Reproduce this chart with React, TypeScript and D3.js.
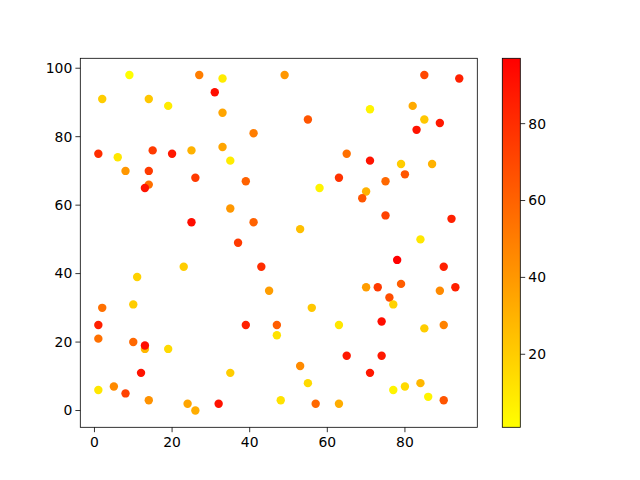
import React from "react";
import * as d3 from "d3";

// scatter points: x, y and the colour value
const xs = [9, 27, 33, 31, 2, 14, 19, 33, 41, 1, 6, 15, 20, 25, 33, 35, 8, 14, 26, 39, 14, 13, 35, 25, 41, 37, 49, 85, 94, 71, 82, 55, 85, 89, 83, 65, 71, 79, 87, 63, 80, 75, 58, 70, 69, 75, 92, 53, 84, 23, 43, 11, 45, 2, 10, 1, 39, 47, 47, 1, 10, 13, 13, 19, 12, 35, 1, 5, 8, 14, 24, 26, 32, 48, 78, 90, 70, 73, 79, 93, 89, 76, 77, 56, 63, 74, 85, 90, 65, 74, 71, 53, 55, 77, 80, 84, 86, 90, 57, 63];
const ys = [98, 98, 97, 93, 91, 91, 89, 87, 81, 75, 74, 76, 75, 76, 77, 73, 70, 70, 68, 67, 66, 65, 59, 55, 55, 49, 98, 98, 97, 88, 89, 85, 85, 84, 82, 75, 73, 72, 72, 68, 69, 67, 65, 64, 62, 57, 56, 53, 50, 42, 42, 39, 35, 30, 31, 25, 25, 25, 22, 21, 20, 18, 19, 18, 11, 11, 6, 7, 5, 3, 2, 0, 2, 3, 44, 42, 36, 36, 37, 36, 35, 33, 31, 30, 25, 26, 24, 25, 16, 16, 11, 13, 8, 6, 7, 8, 4, 3, 2, 2];
const colours = [1, 50, 8, 92, 20, 22, 8, 35, 50, 80, 10, 75, 88, 30, 35, 8, 40, 75, 75, 60, 55, 90, 40, 92, 60, 75, 40, 70, 85, 5, 33, 65, 22, 88, 90, 55, 90, 20, 30, 78, 65, 58, 5, 30, 65, 72, 85, 25, 10, 20, 80, 18, 38, 55, 20, 85, 85, 62, 12, 55, 58, 28, 92, 15, 90, 20, 10, 45, 72, 42, 35, 32, 90, 12, 97, 85, 38, 75, 62, 85, 45, 68, 18, 22, 10, 92, 20, 48, 88, 88, 88, 45, 15, 5, 15, 28, 5, 65, 58, 32];

const xTicks = [0, 20, 40, 60, 80];
const yTicks = [0, 20, 40, 60, 80, 100];
const cTicks = [20, 40, 60, 80];

const font = "DejaVu Sans, sans-serif";

export default function App() {
  const left = 80.3, right = 477.3, top = 58.3, bottom = 427.3;
  const cbLeft = 502.3, cbRight = 520.3;

  const x = d3.scaleLinear().domain([-3.65, 98.65]).range([left, right]);
  const y = d3.scaleLinear().domain([-4.9, 102.9]).range([bottom, top]);
  const cExtent = d3.extent(colours) as [number, number];
  const color = d3
    .scaleSequential(d3.interpolateRgb("#ffff00", "#ff0000"))
    .domain(cExtent);
  const cy = d3.scaleLinear().domain(cExtent).range([bottom, top]);

  const stops = d3.range(0, 1.0001, 0.1);

  return (
    <svg
      width={640}
      height={480}
      style={{ position: "absolute", left: 0, top: 0, background: "#fff" }}
    >
      <defs>
        <linearGradient id="cbar" x1="0" y1="1" x2="0" y2="0">
          {stops.map((t) => (
            <stop
              key={t}
              offset={t}
              stopColor={color(cExtent[0] + t * (cExtent[1] - cExtent[0]))}
            />
          ))}
        </linearGradient>
      </defs>

      {xs.map((d, i) => (
        <circle key={i} cx={x(d)} cy={y(ys[i])} r={4.2} fill={color(colours[i])} />
      ))}

      <rect
        x={left}
        y={top}
        width={right - left}
        height={bottom - top}
        fill="none"
        stroke="#000"
        strokeWidth={0.8}
      />

      {xTicks.map((t) => (
        <g key={t} transform={`translate(${x(t)},${bottom})`}>
          <line y2={4.9} stroke="#000" strokeWidth={0.8} />
          <text y={20} textAnchor="middle" fontFamily={font} fontSize={13.9}>
            {t}
          </text>
        </g>
      ))}

      {yTicks.map((t) => (
        <g key={t} transform={`translate(${left},${y(t)})`}>
          <line x2={-4.9} stroke="#000" strokeWidth={0.8} />
          <text x={-8} dy="0.35em" textAnchor="end" fontFamily={font} fontSize={13.9}>
            {t}
          </text>
        </g>
      ))}

      <rect
        x={cbLeft}
        y={top}
        width={cbRight - cbLeft}
        height={bottom - top}
        fill="url(#cbar)"
        stroke="#000"
        strokeWidth={0.8}
      />
      {cTicks.map((t) => (
        <g key={t} transform={`translate(${cbRight},${cy(t)})`}>
          <line x2={4.9} stroke="#000" strokeWidth={0.8} />
          <text x={8} dy="0.35em" textAnchor="start" fontFamily={font} fontSize={13.9}>
            {t}
          </text>
        </g>
      ))}
    </svg>
  );
}
